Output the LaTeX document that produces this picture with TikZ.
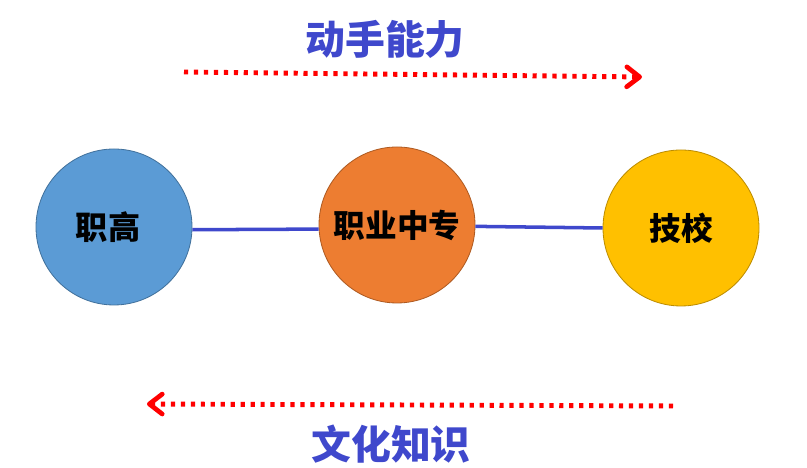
\documentclass[tikz,border=0pt]{standalone}
\usepackage{fontspec}
\setmainfont{Noto Sans CJK SC Black}
\usetikzlibrary{arrows.meta}
\definecolor{lan}{HTML}{3F48CC}
\definecolor{hong}{HTML}{FF0000}
\begin{document}
\begin{tikzpicture}
	\useasboundingbox (0,0) rectangle (24.21,14.04);
	\tikzstyle{rond}=[circle,draw,line width=0.7pt,inner sep=0pt,minimum size=4.68cm,text=black,font=\fontsize{27pt}{30pt}\selectfont]
	\tikzstyle{gaozhi}=[rond,fill=blue1,draw=blue2]
	\tikzstyle{zhongzhuan}=[rond,fill=orange1,draw=orange2]
	\tikzstyle{jixiao}=[rond,fill=yellow1,draw=yellow2]
	\tikzstyle{titre}=[text=lan,font=\fontsize{34pt}{38pt}\selectfont]
	\tikzstyle{lien}=[draw=lan,line width=3pt]
	\tikzstyle{fleche}=[draw=hong,line width=4.2pt,dash pattern=on 3.6pt off 4.9pt,-{Straight Barb[length=11pt,width=17pt,line width=4pt,round]}]
	\definecolor{blue1}{HTML}{5B9BD5}
	\definecolor{blue2}{HTML}{41719C}
	\definecolor{orange1}{HTML}{ED7D31}
	\definecolor{orange2}{HTML}{AE5A21}
	\definecolor{yellow1}{HTML}{FFC000}
	\definecolor{yellow2}{HTML}{BC8C00}
	\node[gaozhi] (A) at (3.42,7.23){};
	\node[zhongzhuan] (B) at (11.91,7.29){职业中专};
	\node[jixiao] (C) at (20.43,7.2){技校};
	\node[font=\fontsize{27.5pt}{30pt}\selectfont] (Aa) at (3.24,7.23){职高};
	\node[titre] (T) at (11.55,12.86){动手能力};
	\node[titre] (W) at (11.73,0.71){文化知识};
	\coordinate (P) at (5.52,11.88);
	\coordinate (Q) at (19.26,11.73);
	\coordinate (R) at (20.19,1.86);
	\coordinate (S) at (4.41,1.92);
	\draw[lien] (A.-2) -- (B.183.5);
	\draw[lien] (B.-1.5) -- (C.west);
	\draw[fleche] (P) -- (Q);
	\draw[fleche] (R) -- (S);
\end{tikzpicture}
\end{document}
